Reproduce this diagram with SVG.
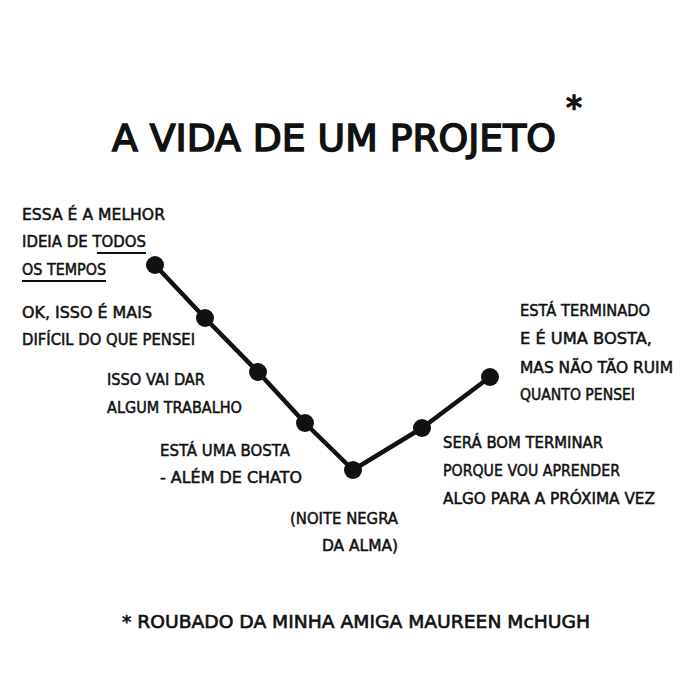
<svg xmlns="http://www.w3.org/2000/svg" width="700" height="700" viewBox="0 0 700 700">
<style>
text{font-family:"DejaVu Sans","Liberation Sans",sans-serif;fill:#111;stroke:#111}
.l{font-size:15px;stroke-width:0.5}
.t{font-size:37.7px;stroke-width:1.6}
.f{font-size:17px;stroke-width:0.6}
.ln{stroke:#111;stroke-width:4.5;fill:none;stroke-linejoin:round;stroke-linecap:round}
.u{stroke:#111;stroke-width:2}
.d{fill:#111}
</style>
<rect width="700" height="700" fill="#fff"/>
<g id="title">
<text class="t" x="112" y="151">A VIDA DE UM PROJETO</text>
<text x="566" y="118" style="font-size:32px;stroke-width:1.4">*</text>
</g>
<g id="connectors">
<polyline class="ln" points="155,265 205,318 258,372 305,423 353,470 422,428 490,377"/>
</g>
<g id="n1"><circle class="d" cx="155" cy="265" r="9"/>
<text class="l" x="22" y="220" textLength="143" lengthAdjust="spacingAndGlyphs">ESSA É A MELHOR</text>
<text class="l" x="22" y="247" textLength="124" lengthAdjust="spacingAndGlyphs">IDEIA DE TODOS</text>
<text class="l" x="22" y="275" textLength="84" lengthAdjust="spacingAndGlyphs">OS TEMPOS</text>
<line class="u" x1="97" y1="253" x2="146" y2="253"/>
<line class="u" x1="22" y1="281" x2="106" y2="281"/>
</g>
<g id="n2"><circle class="d" cx="205" cy="318" r="9"/>
<text class="l" x="22" y="318" textLength="130" lengthAdjust="spacingAndGlyphs">OK, ISSO É MAIS</text>
<text class="l" x="22" y="345" textLength="173" lengthAdjust="spacingAndGlyphs">DIFÍCIL DO QUE PENSEI</text>
</g>
<g id="n3"><circle class="d" cx="258" cy="372" r="9"/>
<text class="l" x="107" y="385" textLength="98" lengthAdjust="spacingAndGlyphs">ISSO VAI DAR</text>
<text class="l" x="107" y="413" textLength="135" lengthAdjust="spacingAndGlyphs">ALGUM TRABALHO</text>
</g>
<g id="n4"><circle class="d" cx="305" cy="423" r="9"/>
<text class="l" x="160" y="456" textLength="130" lengthAdjust="spacingAndGlyphs">ESTÁ UMA BOSTA</text>
<text class="l" x="160" y="483" textLength="142" lengthAdjust="spacingAndGlyphs">- ALÉM DE CHATO</text>
</g>
<g id="n5"><circle class="d" cx="353" cy="470" r="9"/>
<text class="l" x="290" y="524" textLength="108" lengthAdjust="spacingAndGlyphs">(NOITE NEGRA</text>
<text class="l" x="322" y="551" textLength="76" lengthAdjust="spacingAndGlyphs">DA ALMA)</text>
</g>
<g id="n6"><circle class="d" cx="422" cy="428" r="9"/>
<text class="l" x="443" y="448" textLength="160" lengthAdjust="spacingAndGlyphs">SERÁ BOM TERMINAR</text>
<text class="l" x="443" y="476" textLength="177" lengthAdjust="spacingAndGlyphs">PORQUE VOU APRENDER</text>
<text class="l" x="443" y="504" textLength="212" lengthAdjust="spacingAndGlyphs">ALGO PARA A PRÓXIMA VEZ</text>
</g>
<g id="n7"><circle class="d" cx="490" cy="377" r="9"/>
<text class="l" x="520" y="316" textLength="130" lengthAdjust="spacingAndGlyphs">ESTÁ TERMINADO</text>
<text class="l" x="520" y="344" textLength="132" lengthAdjust="spacingAndGlyphs">E É UMA BOSTA,</text>
<text class="l" x="520" y="373" textLength="153" lengthAdjust="spacingAndGlyphs">MAS NÃO TÃO RUIM</text>
<text class="l" x="520" y="400" textLength="115" lengthAdjust="spacingAndGlyphs">QUANTO PENSEI</text>
</g>
<g id="footer">
<text class="f" x="122" y="628" textLength="468" lengthAdjust="spacingAndGlyphs">* ROUBADO DA MINHA AMIGA MAUREEN McHUGH</text>
</g>
</svg>
